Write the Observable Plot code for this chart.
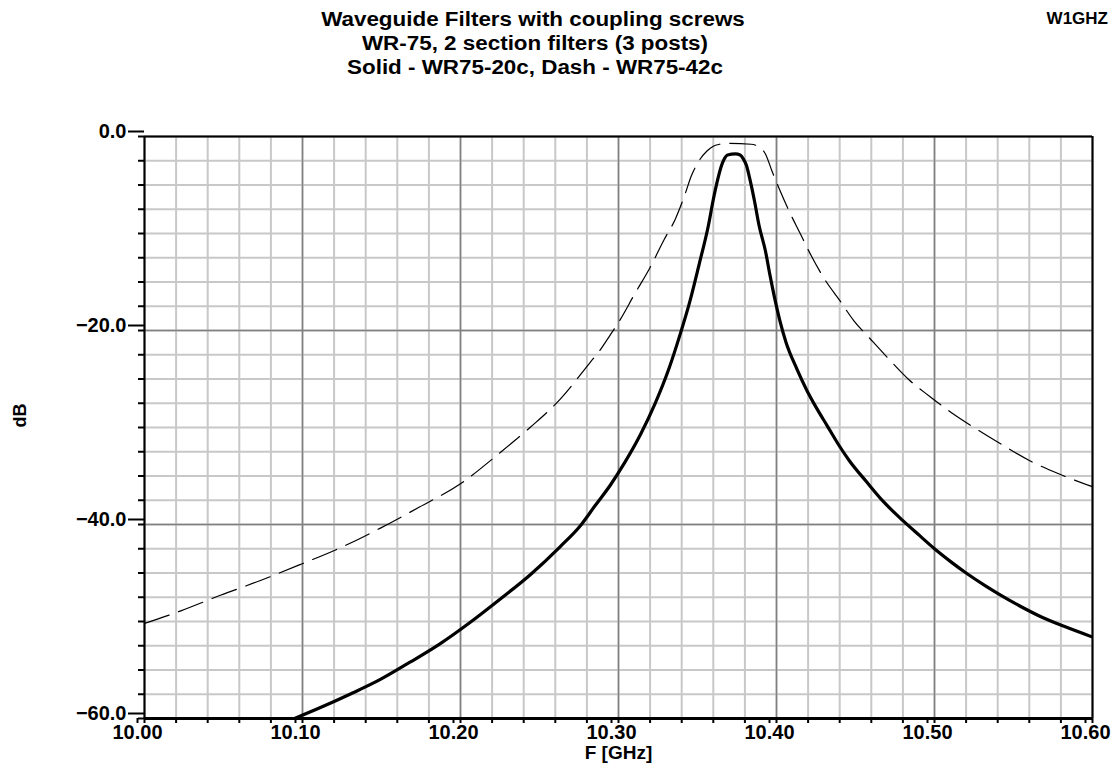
<!DOCTYPE html>
<html>
<head>
<meta charset="utf-8">
<script src="https://cdn.jsdelivr.net/npm/d3@7"></script>
<script src="https://cdn.jsdelivr.net/npm/@observablehq/plot@0.6"></script>
<style>
  html, body { margin: 0; padding: 0; background: #fff; }
  #wrap { position: relative; width: 1120px; height: 770px; overflow: hidden; }
  #wrap svg { position: absolute; left: 0; top: 0; }
  .t { position: absolute; font-family: "Liberation Sans", Arial, sans-serif; font-weight: bold; font-size: 20px; color: #000; white-space: nowrap; line-height: 1; }
  .c { width: 1120px; text-align: center; transform: scaleX(1.12); transform-origin: center; }
</style>
</head>
<body>
<div id="wrap">
  <div class="t c" style="left:-27px; top:9px;">Waveguide Filters with coupling screws</div>
  <div class="t c" style="left:-25px; top:33px;">WR-75, 2 section filters (3 posts)</div>
  <div class="t c" style="left:-25px; top:57px;">Solid - WR75-20c, Dash - WR75-42c</div>
  <div class="t" style="right:12px; top:10px; font-size:17px;">W1GHZ</div>
</div>
<script>
// Solid - WR75-20c  (frequency in GHz, response in dB)
const freqSolid = [10.095, 10.111, 10.130, 10.149, 10.168, 10.187, 10.206, 10.225, 10.244, 10.263, 10.276, 10.285, 10.295, 10.304, 10.314, 10.323, 10.332, 10.339, 10.345, 10.351, 10.357, 10.360, 10.363, 10.365, 10.367, 10.369, 10.374, 10.377, 10.379, 10.381, 10.383, 10.386, 10.389, 10.393, 10.396, 10.399, 10.402, 10.406, 10.413, 10.419, 10.425, 10.432, 10.439, 10.446, 10.457, 10.468, 10.480, 10.491, 10.500, 10.510, 10.520, 10.532, 10.541, 10.554, 10.566, 10.582, 10.600];
const dbSolid   = [-60.0, -58.9, -57.5, -56.0, -54.2, -52.3, -50.1, -47.7, -45.2, -42.3, -40.1, -38.1, -35.9, -33.6, -30.7, -27.6, -23.9, -20.4, -17.1, -13.2, -9.1, -6.5, -4.3, -3.1, -2.3, -1.9, -1.8, -1.9, -2.3, -3.0, -4.3, -6.6, -9.2, -11.8, -14.4, -16.8, -18.9, -21.2, -24.0, -26.1, -27.9, -29.8, -31.7, -33.4, -35.6, -37.7, -39.6, -41.2, -42.5, -43.8, -45.0, -46.3, -47.2, -48.4, -49.4, -50.5, -51.6];

// Dash - WR75-42c
const freqDash = [10.000, 10.023, 10.048, 10.073, 10.099, 10.124, 10.149, 10.174, 10.200, 10.225, 10.244, 10.263, 10.282, 10.288, 10.295, 10.301, 10.310, 10.320, 10.329, 10.336, 10.342, 10.346, 10.351, 10.356, 10.360, 10.364, 10.369, 10.384, 10.388, 10.393, 10.397, 10.402, 10.408, 10.415, 10.422, 10.430, 10.440, 10.449, 10.459, 10.472, 10.484, 10.497, 10.511, 10.525, 10.541, 10.560, 10.579, 10.600];
const dbDash   = [-50.2, -48.9, -47.3, -45.8, -44.1, -42.4, -40.4, -38.2, -35.8, -32.6, -30.0, -27.1, -23.3, -22.1, -20.4, -18.9, -16.3, -13.5, -10.6, -8.5, -6.0, -4.1, -2.5, -1.5, -1.0, -0.8, -0.7, -0.8, -1.0, -1.8, -3.5, -5.5, -7.7, -10.0, -12.3, -14.6, -16.9, -19.0, -20.8, -23.1, -25.1, -26.8, -28.5, -30.0, -31.6, -33.4, -34.8, -36.1];

// Axis ticks
const xTickValues = [10.00, 10.10, 10.20, 10.30, 10.40, 10.50, 10.60];
const yTickValues = [0, -20, -40, -60];
const xMinorStep = 0.02;
const yMinorStep = 2.5;

const solid = freqSolid.map((f, i) => ({f, db: dbSolid[i]}));
const dash = freqDash.map((f, i) => ({f, db: dbDash[i]}));
const xMinor = d3.range(0, 31).map(i => 10 + i * xMinorStep);
const yMinor = d3.range(0, 25).map(i => -i * yMinorStep);

const font = {fontFamily: "Liberation Sans, Arial, sans-serif", fontWeight: "bold", fontSize: 20};

const chart = Plot.plot({
  width: 1120,
  height: 770,
  marginLeft: 144,
  marginRight: 28,
  marginTop: 136,
  marginBottom: 52,
  style: {background: "transparent", color: "#000", overflow: "visible"},
  x: {domain: [10, 10.6]},
  y: {domain: [-60, 0]},
  marks: [
    Plot.ruleX(xMinor, {stroke: "#c8c8c8", strokeWidth: 2}),
    Plot.ruleY(yMinor, {stroke: "#c8c8c8", strokeWidth: 2}),
    Plot.ruleX(xTickValues, {stroke: "#808080", strokeWidth: 1.5}),
    Plot.ruleY(yTickValues, {stroke: "#808080", strokeWidth: 1.5}),
    // minor ticks
    Plot.axisX({ticks: xMinor, tickSize: 5, text: null, stroke: "#000", strokeWidth: 2, label: null}),
    Plot.axisY({ticks: yMinor, tickSize: 6, text: null, stroke: "#000", strokeWidth: 2, label: null}),
    // major ticks and labels
    Plot.axisX({ticks: xTickValues, tickSize: 5, tickPadding: 1, tickFormat: ".2f", stroke: "#000", strokeWidth: 2, dx: -7, label: null, ...font}),
    Plot.axisY({ticks: yTickValues, tickSize: 16, tickPadding: 2, tickFormat: ".1f", stroke: "#000", strokeWidth: 2, dy: -5, label: null, ...font}),
    // frame
    Plot.ruleY([0], {stroke: "#000", strokeWidth: 2}),
    Plot.ruleY([-60], {stroke: "#000", strokeWidth: 3}),
    Plot.ruleX([10], {stroke: "#000", strokeWidth: 2}),
    Plot.ruleX([10.6], {stroke: "#000", strokeWidth: 2}),
    // curves
    Plot.line(dash, {x: "f", y: "db", stroke: "#000", strokeWidth: 1.2, strokeDasharray: "26,10", curve: "monotone-x", clip: true}),
    Plot.line(solid, {x: "f", y: "db", stroke: "#000", strokeWidth: 3.2, curve: "monotone-x", clip: true}),
    // axis titles
    Plot.text(["F [GHz]"], {frameAnchor: "bottom", dy: 40, dx: 0, fontFamily: "Liberation Sans, Arial, sans-serif", fontWeight: "bold", fontSize: 19}),
    Plot.text(["dB"], {frameAnchor: "left", dx: -124, rotate: -90, fontFamily: "Liberation Sans, Arial, sans-serif", fontWeight: "bold", fontSize: 18})
  ]
});
document.getElementById("wrap").prepend(chart);
</script>
</body>
</html>
